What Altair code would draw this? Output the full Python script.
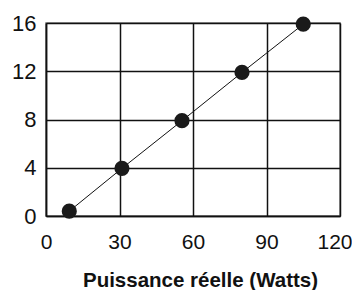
import altair as alt
import pandas as pd

watts = [9.5, 31, 55.5, 80, 105]
values = [0.4, 3.95, 7.9, 11.9, 15.9]
x_ticks = [0, 30, 60, 90, 120]
y_ticks = [0, 4, 8, 12, 16]

df = pd.DataFrame({"w": watts, "v": values})

FONT = "Liberation Sans, Arial, sans-serif"

x = alt.X("w:Q", scale=alt.Scale(domain=[0, 120], nice=False),
          axis=alt.Axis(values=x_ticks, title="Puissance réelle (Watts)",
                        labelFontSize=21, labelPadding=15, labelFlush=False,
                        labelAlign={"expr": "datum.value == 120 ? 'right' : 'center'"},
                        labelOffset={"expr": "datum.value == 120 ? 12 : 0"},
                        titleFontSize=20.5,
                        titleFontWeight="bold", titlePadding=18, ticks=False,
                        labelFont=FONT, titleFont=FONT, labelColor="#111",
                        titleColor="#111", domainColor="#111", domainWidth=1.5,
                        gridColor="#111", gridWidth=1.5, gridOpacity=1,
                        titleX=154))
y = alt.Y("v:Q", scale=alt.Scale(domain=[0, 16], nice=False),
          axis=alt.Axis(values=y_ticks, title=None, labelFontSize=22,
                        labelPadding=10, labelFlush=False, ticks=False,
                        labelFont=FONT,
                        labelColor="#111", domainColor="#111", domainWidth=1.5,
                        gridColor="#111", gridWidth=1.5, gridOpacity=1))

base = alt.Chart(df)
line = base.mark_line(color="#111", strokeWidth=1).encode(x=x, y=y)
pts = base.mark_circle(color="#1a1a1a", opacity=1, size=230).encode(x=x, y=y)

chart = (line + pts).properties(
    width=294, height=193,
    autosize=alt.AutoSizeParams(type="none"),
    padding={"left": 38, "top": 15, "right": 12, "bottom": 74},
).configure_view(stroke="#777", strokeWidth=1.5)

chart.save("out.html", embed_options={"renderer": "svg", "actions": False})
